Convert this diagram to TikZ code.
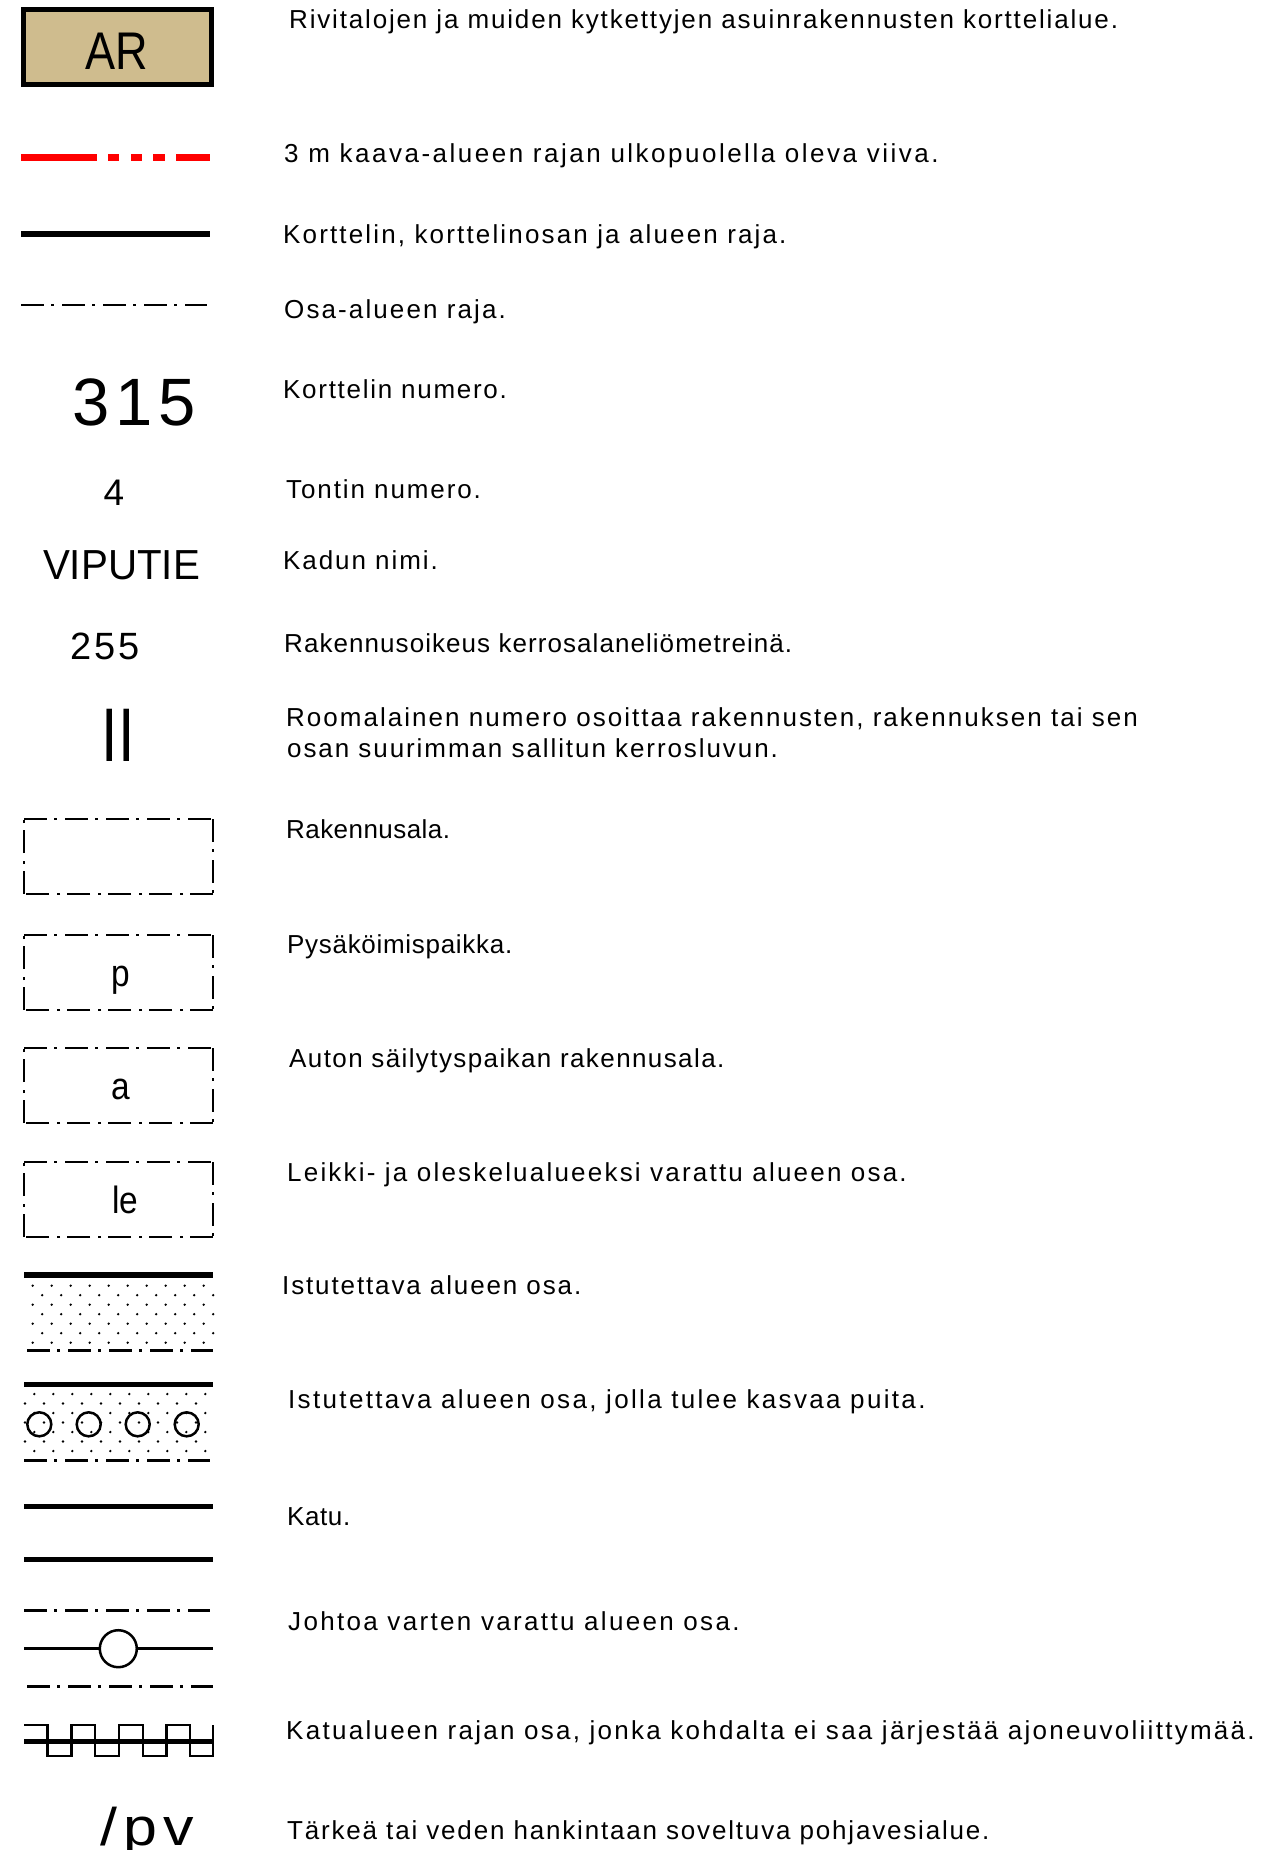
\documentclass[tikz,border=0pt]{standalone}
\usepackage{fontspec}
\setmainfont{Liberation Sans}
\definecolor{korttelitan}{HTML}{CFBC8E}
\tikzset{
  legtext/.style={anchor=base west,inner sep=0pt,font=\fontsize{26}{26}\selectfont\addfontfeature{LetterSpace=#1}},
  symtext/.style={anchor=base,inner sep=0pt},
  ohut/.style={line width=2.5pt},
  paksu/.style={line width=5.5pt},
  raja/.style={line width=2.8pt,dash pattern=on 23pt off 7pt on 3pt off 8pt},
}
\begin{document}
\begin{tikzpicture}[x=1pt,y=-1pt]
    \useasboundingbox (0,0) rectangle (1264,1850);
    % AR
    \node[draw,line width=4.5pt,fill=korttelitan,minimum width=188pt,minimum height=75pt,inner sep=0pt] (ar) at (117.5,47) {};
    \node[symtext,font=\fontsize{53}{53}\selectfont\addfontfeature{FakeStretch=0.85}] (arlabel) at (116.5,69) {AR};
    % Viivat
    \draw[line width=7pt,red,dash pattern=on 76pt off 11pt on 11pt off 12pt on 11pt off 11pt on 12pt off 11pt on 34pt off 0pt] (21,157) -- (210,157);
    \draw[line width=6pt] (21,233.5) -- (210,233.5);
    \draw[raja] (21,305) -- (207,305);
    % Numerot
    \node[symtext,font=\fontsize{67}{67}\selectfont\addfontfeature{LetterSpace=8.5}] (kortteli) at (134,425) {315};
    \node[symtext,font=\fontsize{37}{37}\selectfont] (tontti) at (114,505) {4};
    \node[symtext,font=\fontsize{42}{42}\selectfont\addfontfeature{FakeStretch=0.96}] (katu) at (121.5,579) {VIPUTIE};
    \node[symtext,font=\fontsize{38}{38}\selectfont\addfontfeature{LetterSpace=7}] (oikeus) at (105,659) {255};
    \node[symtext,font=\fontsize{76}{76}\selectfont\addfontfeature{FakeStretch=0.78}] (kerrosluku) at (118,761) {II};
    % Rakennusalat
    \foreach \yy/\lab/\xx/\id in {819//120/ala,935/p/120.5/pp,1048/a/121/aa,1162/le/125.5/le}{
        \draw[raja] (24,\yy) -- (213,\yy);
        \draw[raja] (213,\yy) -- (213,\yy+75);
        \draw[raja] (213,\yy+75) -- (24,\yy+75);
        \draw[raja] (24,\yy+75) -- (24,\yy);
        \node[symtext,font=\fontsize{38}{38}\selectfont\addfontfeature{FakeStretch=0.88}] (\id) at (\xx,\yy+51.5) {\lab};
    }
    % Istutettava
    \draw[paksu] (24,1275) -- (213,1275);
    \foreach \rr in {0,2,4,6}{
        \foreach \k in {0,...,9} \fill (32.7+19*\k,1285.7+9.5*\rr) circle (1.3);
    }
    \foreach \rr in {1,3,5}{
        \foreach \k in {0,...,9} \fill (42.2+19*\k,1285.7+9.5*\rr) circle (1.3);
    }
    \draw[raja] (27,1350.3) -- (213,1350.3);
    % Istutettava, puut
    \draw[paksu] (24,1384.3) -- (213,1384.3);
    \foreach \rr in {0,2,4,6}{
        \foreach \k in {0,...,9} \fill (34.3+19*\k,1394+9.5*\rr) circle (1.3);
    }
    \foreach \rr in {1,3,5}{
        \foreach \k in {0,...,9} \fill (25+19*\k,1394+9.5*\rr) circle (1.3);
    }
    \foreach \xx in {39.3,88.7,137.7,186.7}
        \draw[ohut] (\xx,1424.3) circle (12);
    \draw[raja] (24,1460.3) -- (210,1460.3);
    % Katu
    \draw[line width=5pt] (24,1506) -- (213,1506);
    \draw[line width=5pt] (24,1559) -- (213,1559);
    % Johto
    \draw[raja] (24,1610.7) -- (210,1610.7);
    \node[draw,ohut,fill=white,circle,inner sep=0pt,minimum size=37pt] (johto) at (118.3,1648.7) {};
    \coordinate (johtoa) at (24,1648.7);
    \coordinate (johtob) at (213,1648.7);
    \draw[ohut] (johtoa) -- (johto) -- (johtob);
    \draw[raja] (27,1686.7) -- (213,1686.7);
    % Liittymakielto
    \draw[line width=5pt] (24,1741) -- (213,1741);
    \draw[ohut] (24,1725) -| (47.5,1756) -| (71.5,1725) -| (95,1756) -| (119,1725) -| (143,1756) -| (166.5,1725) -| (190,1756) -| (213,1725);
    % pv
    \node[anchor=base west,inner sep=0pt,font=\fontsize{53}{53}\selectfont\addfontfeature{FakeStretch=1.15,LetterSpace=12}] (pv) at (100,1845) {/pv};
    % Selitteet
    \node[legtext=7.05] (t1) at (289,28) {Rivitalojen ja muiden kytkettyjen asuinrakennusten korttelialue.};
    \node[legtext=9.6] (t2) at (284,162) {3 m kaava-alueen rajan ulkopuolella oleva viiva.};
    \node[legtext=8.3] (t3) at (283,243) {Korttelin, korttelinosan ja alueen raja.};
    \node[legtext=8.1] (t4) at (284,318) {Osa-alueen raja.};
    \node[legtext=6.6] (t5) at (283,398) {Korttelin numero.};
    \node[legtext=7.3] (t6) at (286,498) {Tontin numero.};
    \node[legtext=7.4] (t7) at (283,569) {Kadun nimi.};
    \node[legtext=4.1] (t8) at (284,652) {Rakennusoikeus kerrosalaneliömetreinä.};
    \node[legtext=7.8] (t9) at (286,726) {Roomalainen numero osoittaa rakennusten, rakennuksen tai sen};
    \node[legtext=7.4] (t9b) at (287,757) {osan suurimman sallitun kerrosluvun.};
    \node[legtext=1.7] (t10) at (286,838) {Rakennusala.};
    \node[legtext=2.7] (t11) at (287,953) {Pysäköimispaikka.};
    \node[legtext=5.4] (t12) at (289,1067) {Auton säilytyspaikan rakennusala.};
    \node[legtext=8.5] (t13) at (287,1181) {Leikki- ja oleskelualueeksi varattu alueen osa.};
    \node[legtext=7.2] (t14) at (282,1294) {Istutettava alueen osa.};
    \node[legtext=9] (t15) at (288,1408) {Istutettava alueen osa, jolla tulee kasvaa puita.};
    \node[legtext=2.3] (t16) at (287,1525) {Katu.};
    \node[legtext=9] (t17) at (288,1630) {Johtoa varten varattu alueen osa.};
    \node[legtext=8.75] (t18) at (286,1739) {Katualueen rajan osa, jonka kohdalta ei saa järjestää ajoneuvoliittymää.};
    \node[legtext=7] (t19) at (287,1839) {Tärkeä tai veden hankintaan soveltuva pohjavesialue.};
\end{tikzpicture}
\end{document}
